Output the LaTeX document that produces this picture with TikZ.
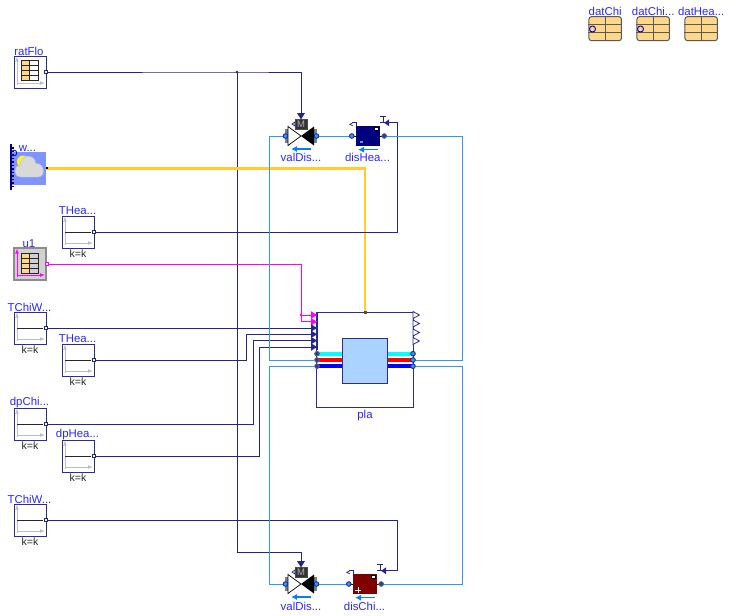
\documentclass[tikz,border=0pt]{standalone}
\usepackage{fontspec}
\setmainfont{Liberation Sans}
\usetikzlibrary{calc,arrows.meta}
\definecolor{wirec}{RGB}{35,35,145}
\definecolor{boxc}{RGB}{45,45,145}
\definecolor{pipec}{RGB}{50,150,245}
\definecolor{flowc}{RGB}{0,127,255}
\definecolor{labelc}{RGB}{40,40,255}
\definecolor{weatherc}{RGB}{255,204,51}
\definecolor{tablec}{RGB}{255,215,136}
\definecolor{axisc}{RGB}{192,192,192}
\definecolor{magc}{RGB}{255,0,255}
\definecolor{cyanc}{RGB}{0,255,255}
\definecolor{redc}{RGB}{255,0,0}
\definecolor{bluec}{RGB}{0,0,255}
\definecolor{navyc}{RGB}{0,0,127}
\definecolor{maroonc}{RGB}{127,0,0}
\tikzset{
  wire/.style={draw=wirec,line width=0.95pt},
  pipe/.style={draw=pipec,line width=0.95pt},
  weatherw/.style={draw=weatherc,line width=2.4pt},
  magw/.style={draw=magc,line width=0.95pt},
  blockbox/.style={draw=boxc,line width=0.95pt,fill=white,minimum width=32pt,minimum height=32pt,inner sep=0pt,outer sep=0pt},
  lbl/.style={text=labelc,font=\fontsize{11.4}{13}\selectfont,inner sep=0pt},
  klbl/.style={text=black!85,font=\fontsize{10.5}{12}\selectfont,inner sep=0pt},
  portb/.style={circle,draw=wirec,fill=pipec,line width=0.7pt,minimum size=4.5pt,inner sep=0pt},
  portd/.style={circle,draw=black!60,fill=wirec!80!pipec,line width=0.7pt,minimum size=4.5pt,inner sep=0pt},
  recbox/.style={draw=black!65,line width=1pt,fill=tablec,rounded corners=2.5pt,minimum width=32.5pt,minimum height=24pt,inner sep=0pt},
  flowarrow/.style={draw=flowc,line width=1.1pt,-{Latex[length=6pt,width=6pt]}},
}
\newcommand{\axesat}[2]{% centre, colour
  \draw[#2,line width=0.95pt] ($(#1)+(-13,13)$) -- ($(#1)+(-13,-13)$);
  \draw[#2,line width=0.95pt] ($(#1)+(-13,11)$) -- ($(#1)+(12,11)$);
  \fill[#2] ($(#1)+(-13,-15)$) -- ++(-1.8,4.5) -- ++(3.6,0) -- cycle;
  \fill[#2] ($(#1)+(14.5,11)$) -- ++(-4.5,-1.8) -- ++(0,3.6) -- cycle;
}
\newcommand{\constblk}[4]{% name, x, y, label
  \node[blockbox] (#1) at (#2,#3) {};
  \axesat{#1.center}{axisc}
  \draw[black!85,line width=0.95pt] ($(#1.center)+(-13,0)$) -- ($(#1.center)+(13,0)$);
  \node[lbl] (#1lab) at ($(#1.center)+(-0.5,-21)$) {#4};
  \node[klbl] (#1k) at ($(#1.center)+(0,22)$) {k=k};
}
\newcommand{\tablegrid}[2]{%
  \fill[tablec] ($(#1)+(-8.5,-10)$) rectangle ($(#1)+(0,10)$);
  \fill[#2] ($(#1)+(0,-10)$) rectangle ($(#1)+(8.5,10)$);
  \draw[black!85,line width=0.9pt] ($(#1)+(-8.5,-10)$) rectangle ($(#1)+(8.5,10)$);
  \draw[black!85,line width=0.9pt] ($(#1)+(0,-10)$) -- ($(#1)+(0,10)$);
  \foreach \dy in {-5,0,5} \draw[black!85,line width=0.9pt] ($(#1)+(-8.5,\dy)$) -- ($(#1)+(8.5,\dy)$);
}
\newcommand{\valve}[3]{% name, x, y
  \coordinate (#1) at (#2,#3);
  \fill[gray] ($(#1)+(-16,-7)$) rectangle ($(#1)+(-12,7)$);
  \fill[pipec] ($(#1)+(-16,-3.5)$) rectangle ($(#1)+(-12,3.5)$);
  \fill[gray] ($(#1)+(12,-7)$) rectangle ($(#1)+(16,7)$);
  \fill[pipec] ($(#1)+(12,-3.5)$) rectangle ($(#1)+(16,3.5)$);
  \draw[black,fill=white,line width=0.7pt] ($(#1)+(-13,-9.5)$) -- ($(#1)+(0,0)$) -- ($(#1)+(-13,9.5)$) -- cycle;
  \fill[black] ($(#1)+(13,-9.5)$) -- ($(#1)+(0,0)$) -- ($(#1)+(13,9.5)$) -- cycle;
  \node[draw=black!70,fill=black!80,minimum width=11.5pt,minimum height=10pt,inner sep=0pt,text=black!30,font=\fontsize{9.5}{9.5}\selectfont] (#1mot) at ($(#1)+(0,-11.5)$) {M};
  \fill[wirec] ($(#1)+(-4,-23)$) -- ($(#1)+(4,-23)$) -- ($(#1)+(0,-16.5)$) -- cycle;
  \draw[wirec,line width=0.7pt,fill=white] ($(#1)+(-9,-12)$) -- ++(3,-2) -- ++(0,4) -- cycle;
  \node[portb] (#1a) at ($(#1)+(-15.5,0)$) {};
  \node[portb] (#1b) at ($(#1)+(15.5,0)$) {};
  \coordinate (#1in) at ($(#1)+(0,-23)$);
  \draw[flowarrow] ($(#1)+(10,13)$) -- ($(#1)+(-10,13)$);
}
\newcommand{\dist}[5]{% name,x,y,fill,sign
  \node[fill=#4,draw=none,minimum width=24pt,minimum height=20pt,inner sep=0pt] (#1) at (#2,#3) {};
  \draw[black,line width=0.9pt] (#1.west) -- ++(-4,0) (#1.east) -- ++(4,0);
  \node[portb] (#1a) at ($(#1.west)+(-4,0)$) {};
  \node[portd] (#1b) at ($(#1.east)+(4,0)$) {};
  \node[draw=black,fill=white,line width=0.7pt,minimum width=4.5pt,minimum height=3.5pt,inner sep=0pt] at ($(#1.north east)+(-4,3)$) {};
  #5
  \draw[wirec,line width=1.3pt] ($(#1.north west)+(1,0)$) -- ++(0,-3) -- ++(-5,0);
  \draw[wirec,line width=0.7pt,fill=white] ($(#1.north west)+(-3,-3)$) -- ++(-3,1.5) -- ++(3,1.5);
  \draw[wirec,line width=1.1pt] ($(#1.north east)+(3,-3)$) -- ++(0,-6) ++(-3,0) -- ++(6,0);
  \draw[wirec,line width=1.1pt] ($(#1.north east)+(0,-3)$) -- ++(5,0);
  \fill[wirec] ($(#1.north east)+(4,-3)$) -- ++(5,-3.5) -- ++(0,7) -- cycle;
  \coordinate (#1in) at ($(#1.north east)+(9,-3)$);
  \draw[flowarrow] ($(#1.south)+(10,3.5)$) -- ($(#1.south)+(-10,3.5)$);
}
\newcommand{\recblk}[3]{% name,x,label
  \node[recbox] (#1) at (#2,28.7) {};
  \draw[black!65,line width=1pt] (#1.north) -- (#1.south)
    ($(#1.west)+(0,-4)$) -- ($(#1.east)+(0,-4)$)
    ($(#1.west)+(0,4)$) -- ($(#1.east)+(0,4)$);
  \node[lbl] (#1lab) at (#2,11) {#3};
}
\newcommand{\inarr}[2]{\fill[#2] ($(#1)+(-6,-3.8)$) -- ++(6,3.8) -- ++(-6,3.8) -- cycle;}
\begin{document}
\begin{tikzpicture}[x=1pt,y=-1pt]
\useasboundingbox (0,0) rectangle (729,616);
\coordinate (junA) at (237,72);
\coordinate (magJ) at (301,315);
% records
\recblk{datChi}{605.2}{datChi}
\draw[bluec!80!black,line width=0.9pt] (592.5,29) circle (3);
\recblk{datChiB}{653.2}{datChi...}
\draw[bluec!80!black,line width=0.9pt] (640.5,29) circle (3);
\recblk{datHea}{701.2}{datHea...}
% pla
\node[draw=boxc,line width=0.95pt,fill=white,minimum width=96.5pt,minimum height=95.5pt,inner sep=0pt] (pla) at (365.2,360.2) {};
\fill[cyanc] (317,351.8) rectangle (343,355.6);
\fill[redc] (317,358.2) rectangle (343,361.9);
\fill[bluec] (317,364.4) rectangle (343,368);
\fill[cyanc] (387,351.8) rectangle (413,355.6);
\fill[redc] (387,358.2) rectangle (413,361.9);
\fill[bluec] (387,364.4) rectangle (413,368);
\node[draw=boxc,line width=0.95pt,fill={rgb,255:red,170;green,212;blue,255},minimum width=44.5pt,minimum height=45pt,inner sep=0pt] (plaIn) at (365.2,360.5) {};
\node[lbl] (plaLab) at (365,415.5) {pla};
\node[portd] (plaL1) at (317,353.7) {};
\node[portd] (plaL2) at (317,360) {};
\node[portd] (plaL3) at (317,366.2) {};
\node[portb] (plaR1) at (413,353.7) {};
\node[portb] (plaR2) at (413,360) {};
\node[portb] (plaR3) at (413,366.2) {};
\foreach \yy in {315,323.5,332.5,341}{
  \draw[boxc,line width=0.8pt,fill=white] (413,\yy-3.5) -- (419.5,\yy) -- (413,\yy+3.5) -- cycle;
}
\coordinate (plaM1) at (317,315);
\coordinate (plaM2) at (317,321.8);
\coordinate (plaI1) at (317,328);
\coordinate (plaI2) at (317,334.3);
\coordinate (plaI3) at (317,340.6);
\coordinate (plaI4) at (317,347);
\coordinate (plaW) at (365,312.5);
% blocks
\node[blockbox] (ratFlo) at (30,72) {};
\axesat{ratFlo.center}{axisc}
\coordinate (ratC) at (29.5,70.5);
\tablegrid{ratC}{white}
\node[lbl] (ratFloLab) at (29,51.5) {ratFlo};
% u1
\node[draw=black!45,line width=1.8pt,fill=black!18,minimum width=32pt,minimum height=32pt,inner sep=0pt] (u1) at (30,264) {};
\axesat{u1.center}{magc}
\coordinate (u1C) at (29.5,263);
\tablegrid{u1C}{black!18}
\node[lbl] (u1Lab) at (29,243.5) {u1};
% weather
\node[fill={rgb,255:red,128;green,148;blue,255},minimum width=34pt,minimum height=33pt,inner sep=0pt] (weaBus) at (29,168.5) {};
\fill[yellow!85!white] (23,161.5) circle (6);
\fill[black!15,draw=black!25] (21,177) .. controls (13,177) and (13,166) .. (20,165) .. controls (21,154) and (34,153) .. (36,163.5) .. controls (45,163) and (46,177) .. (38,177) -- cycle;
\fill[navyc] (9.5,144) rectangle (11.8,190);
\foreach \yy in {147,150.5,...,188} \fill[navyc] (9.5,\yy) rectangle (13.5,\yy+1.8);
\draw[bluec!80!black,line width=0.8pt] (14,153) circle (2.8);
\node[lbl] (weaLab) at (27.5,148.5) {w...};
\constblk{THeaA}{78}{232}{THea...}
\constblk{TChiA}{30}{328}{TChiW...}
\constblk{THeaB}{78}{360}{THea...}
\constblk{dpChi}{30}{424}{dpChi...}
\constblk{dpHea}{78}{456}{dpHea...}
\constblk{TChiB}{30}{520}{TChiW...}
% valves and distributors
\valve{valA}{301}{136}
\valve{valB}{301}{584}
\dist{disHea}{368}{136}{navyc}{\fill[blue!50!white] (360,141) rectangle (363,143);}
\dist{disChi}{365}{584}{maroonc}{\draw[white,line width=0.9pt] (355,590) -- (361,590) (358,587) -- (358,593);}
\node[lbl] (valALab) at (301,157.5) {valDis...};
\node[lbl] (disHeaLab) at (367.5,157.5) {disHea...};
\node[lbl] (valBLab) at (301,606) {valDis...};
\node[lbl] (disChiLab) at (364.5,606) {disChi...};
% connectors
\draw[wire] (ratFlo.east) -- (junA) -| (valAin);
\draw[wire] (junA) |- (301,552) -- (valBin);
\fill[wirec] (junA) circle (1.3);
\draw[weatherw] (weaBus.east) -| (plaW);
\draw[wire] (THeaA.east) -- (397,232) |- (disHeain);
\draw[magw] (u1.east) -- (301,264) -- (magJ) -- (plaM1);
\draw[magw] (magJ) -- (301,321.8) -- (plaM2);
\fill[magc] (magJ) circle (1.4);
\draw[wire] (TChiA.east) -- (plaI1);
\draw[wire] (THeaB.east) -- (246.5,360) |- (plaI2);
\draw[wire] (dpChi.east) -- (253,424) |- (plaI3);
\draw[wire] (dpHea.east) -- (259,456) |- (plaI4);
\draw[wire] (TChiB.east) -- (397,520) |- (disChiin);
\draw[pipe] (valAa) -- (269,136) |- (plaL2);
\draw[pipe] (valBa) -- (269,584) |- (plaL3);
\draw[pipe] (plaR2) -| (462,136) -- (disHeab);
\draw[pipe] (plaR3) -| (462,584) -- (disChib);
\draw[pipe] (valAb) -- (disHeaa);
\draw[pipe] (valBb) -- (disChia);
% arrowheads and ports on top
\inarr{plaM1}{magc}\inarr{plaM2}{magc}
\inarr{plaI1}{wirec}\inarr{plaI2}{wirec}\inarr{plaI3}{wirec}\inarr{plaI4}{wirec}
\draw[wirec,line width=0.95pt] (317,312) -- (317,350);
\fill[black!60!weatherc] (363.5,311) rectangle (366.5,313.5);
\foreach \nn in {plaL1,plaL2,plaL3} \node[portd] at (\nn) {};
\foreach \nn in {plaR1,plaR2,plaR3} \node[portb] at (\nn) {};
\foreach \nn in {valAa,valAb,valBa,valBb,disHeaa,disChia} \node[portb] at (\nn) {};
\foreach \nn in {disHeab,disChib} \node[portd] at (\nn) {};
\foreach \nn in {ratFlo,THeaA,TChiA,THeaB,dpChi,dpHea,TChiB} \node[draw=wirec,fill=white,line width=0.7pt,minimum size=2.8pt,inner sep=0pt] at (\nn.east) {};
\node[draw=magc,fill=white,line width=0.7pt,minimum size=2.8pt,inner sep=0pt] at (u1.east) {};
\fill[black] (45.5,167.4) rectangle (48,168.6);
\end{tikzpicture}
\end{document}
